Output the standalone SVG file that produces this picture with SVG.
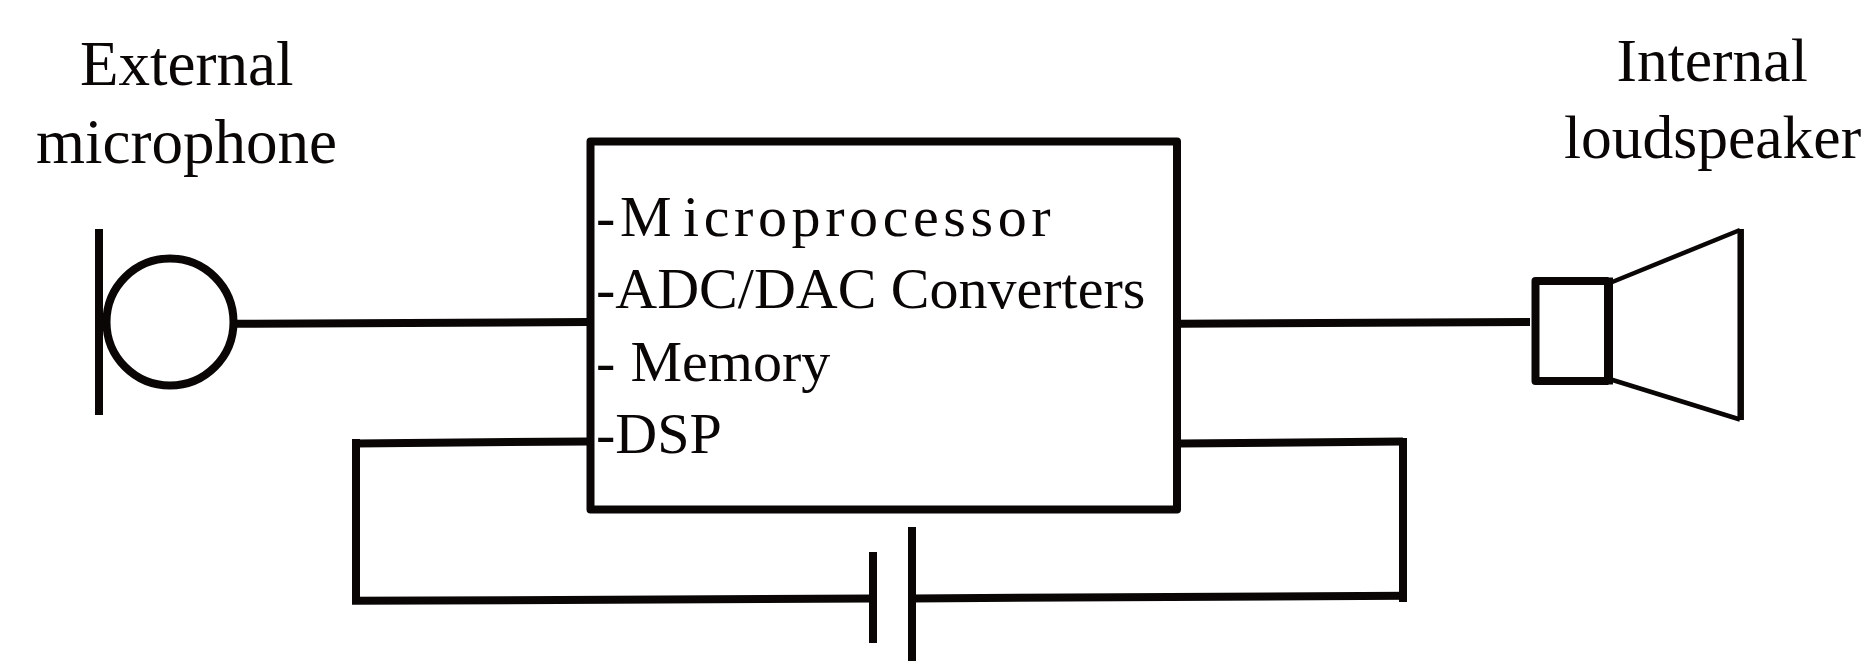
<svg xmlns="http://www.w3.org/2000/svg" width="1869" height="661" viewBox="0 0 1869 661">
<style>
.w{fill:none;stroke:#0a0606;stroke-width:8}
.b{fill:none;stroke:#0a0606;stroke-width:8;stroke-linejoin:round}
.h{fill:none;stroke:#0a0606;stroke-width:4.5}
.big{font-family:"Liberation Serif","Times New Roman",serif;font-size:63px;fill:#0a0606}
.mid{font-family:"Liberation Serif","Times New Roman",serif;font-size:58px;fill:#0a0606}
</style>
<rect width="1869" height="661" fill="#fff"/>
<g id="connectors">
<path class="w" d="M236 323.8L588 322"/>
<path class="w" d="M1180 323.8L1530 322"/>
<path class="w" d="M588 441.4L356 443.5"/>
<path class="w" d="M356 439V604"/>
<path class="w" d="M352 600.8L873 598.6"/>
<path class="w" d="M912 598.4L1407 595.7"/>
<path class="w" d="M1180 443.5L1403 441.4"/>
<path class="w" d="M1403 438V602"/>
</g>
<g id="microphone">
<path class="w" d="M99 229V415"/>
<circle class="b" cx="170" cy="322" r="63.5"/>
<text class="big" x="80" y="85">External</text>
<text class="big" x="36" y="162.5">microphone</text>
</g>
<g id="processor">
<rect class="b" x="590.5" y="141.5" width="586.5" height="368"/>
<text class="mid" x="596" y="235.6">-<tspan x="620">M</tspan><tspan x="683" letter-spacing="4.6">icroprocessor</tspan></text>
<text class="mid" x="596" y="308">-ADC/DAC Converters</text>
<text class="mid" x="596" y="380.5">-<tspan x="630.5">Memory</tspan></text>
<text class="mid" x="596" y="453">-DSP</text>
</g>
<g id="battery">
<path class="w" d="M873 552V643"/>
<path class="w" d="M912 527V661"/>
</g>
<g id="loudspeaker">
<path class="b" d="M1608.5 281H1535.5V381H1608.5"/>
<path class="w" d="M1608.5 277.5V384.5" style="stroke-width:9"/>
<path class="h" d="M1611 282.5L1740 230"/>
<path class="h" d="M1611 379.5L1740 419.5"/>
<path class="b" d="M1740.7 229V420" style="stroke-width:6.5"/>
<text class="big" x="1616.5" y="80.5" style="font-size:61.5px">Internal</text>
<text class="big" x="1564" y="158" style="font-size:61.5px">loudspeaker</text>
</g>
</svg>
